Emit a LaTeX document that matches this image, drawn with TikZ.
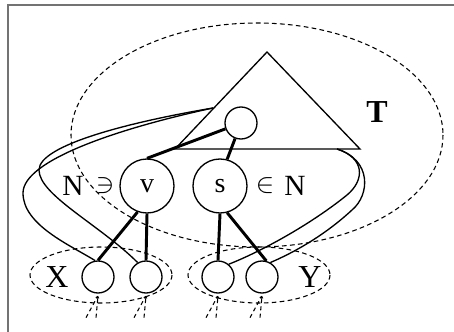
\documentclass[tikz,border=0pt]{standalone}
\usepackage{fontspec}
\setmainfont{Liberation Serif}
\usetikzlibrary{arrows.meta,calc}
\tikzset{
  knob/.style={circle,draw,line width=1pt,minimum size=24pt,inner sep=0pt},
  bigknob/.style={circle,draw,line width=1pt,minimum size=40.5pt,inner sep=0pt,font=\fontsize{21}{25}\selectfont},
  lbl/.style={inner sep=0pt,font=\fontsize{22}{26}\selectfont},
  biglbl/.style={inner sep=0pt,font=\fontsize{24}{28}\selectfont},
  tree/.style={line width=2.2pt},
  wire/.style={line width=1pt},
  hull/.style={line width=0.8pt,dash pattern=on 3.5pt off 2.5pt},
  stub/.style={line width=0.8pt,dash pattern=on 3pt off 2.5pt,-{Latex[length=2pt,width=2.5pt]}}
}
\begin{document}
\begin{tikzpicture}[x=0.75pt,y=-0.75pt]
  \useasboundingbox (0,0) rectangle (454,332);
  \draw[gray!90!black,line width=1.5pt] (8,332) -- (8,5) -- (454,5);

  % hulls
  \draw[hull] (257,135) ellipse (186 and 112);
  \draw[hull] (101,275) ellipse (71 and 28);
  \draw[hull] (259,275) ellipse (71 and 28);

  % the tree T
  \coordinate (top) at (267,52);
  \coordinate (bl) at (175,149);
  \coordinate (br) at (360,149);
  \draw[wire] (top) -- (bl) -- (br) -- cycle;

  \node[knob] (r) at (241,123) {};
  \node[bigknob] (v) at (147,186) {v};
  \node[bigknob] (s) at (220,186) {s};
  \node[knob] (a) at (98,277) {};
  \node[knob] (b) at (146,277) {};
  \node[knob] (c) at (218,277) {};
  \node[knob] (d) at (262,277) {};

  \node[lbl] (nl) at (73,186) {N};
  \node[lbl] (ni) at (105,186) {$\ni$};
  \node[lbl] (si) at (265,186) {$\in$};
  \node[lbl] (nr) at (295,186) {N};
  \node[biglbl,font=\fontsize{24}{28}\selectfont\bfseries] (t) at (377,112) {T};
  \node[biglbl] (x) at (57,277) {X};
  \node[biglbl] (y) at (310,277) {Y};

  \draw[tree] (r) -- (v.north);
  \draw[tree] (r) -- (s.75);
  \draw[tree] (v.250) -- (a.north);
  \draw[tree] (v.south) -- (b.north);
  \draw[tree] (s.south) -- (c.north);
  \draw[tree] (s.285) -- (d.75);

  % back edges
  \coordinate (tl) at (213,108);
  \coordinate (tr) at (337,149);
  \draw[wire] (tl) .. controls (130,122) and (39,145) .. (39,170)
    .. controls (39,195) and (100,225) .. (b.120);
  \draw[wire] (tl) .. controls (120,128) and (23,160) .. (23,193)
    .. controls (23,225) and (70,245) .. (a.100);
  \draw[wire] (tr) .. controls (365,158) and (365,180) .. (347,195)
    .. controls (310,225) and (260,252) .. (c.50);
  \draw[wire] (tr) .. controls (372,160) and (370,195) .. (352,210)
    .. controls (325,235) and (295,252) .. (d.60);

  \foreach \n in {a,b,c,d}{
    \draw[stub] ($(\n.south)+(-12,24)$) -- ($(\n.south)+(0,2)$);
    \draw[stub] ($(\n.south)+(-2,24)$) -- ($(\n.south)+(0,2)$);
  }
\end{tikzpicture}
\end{document}
